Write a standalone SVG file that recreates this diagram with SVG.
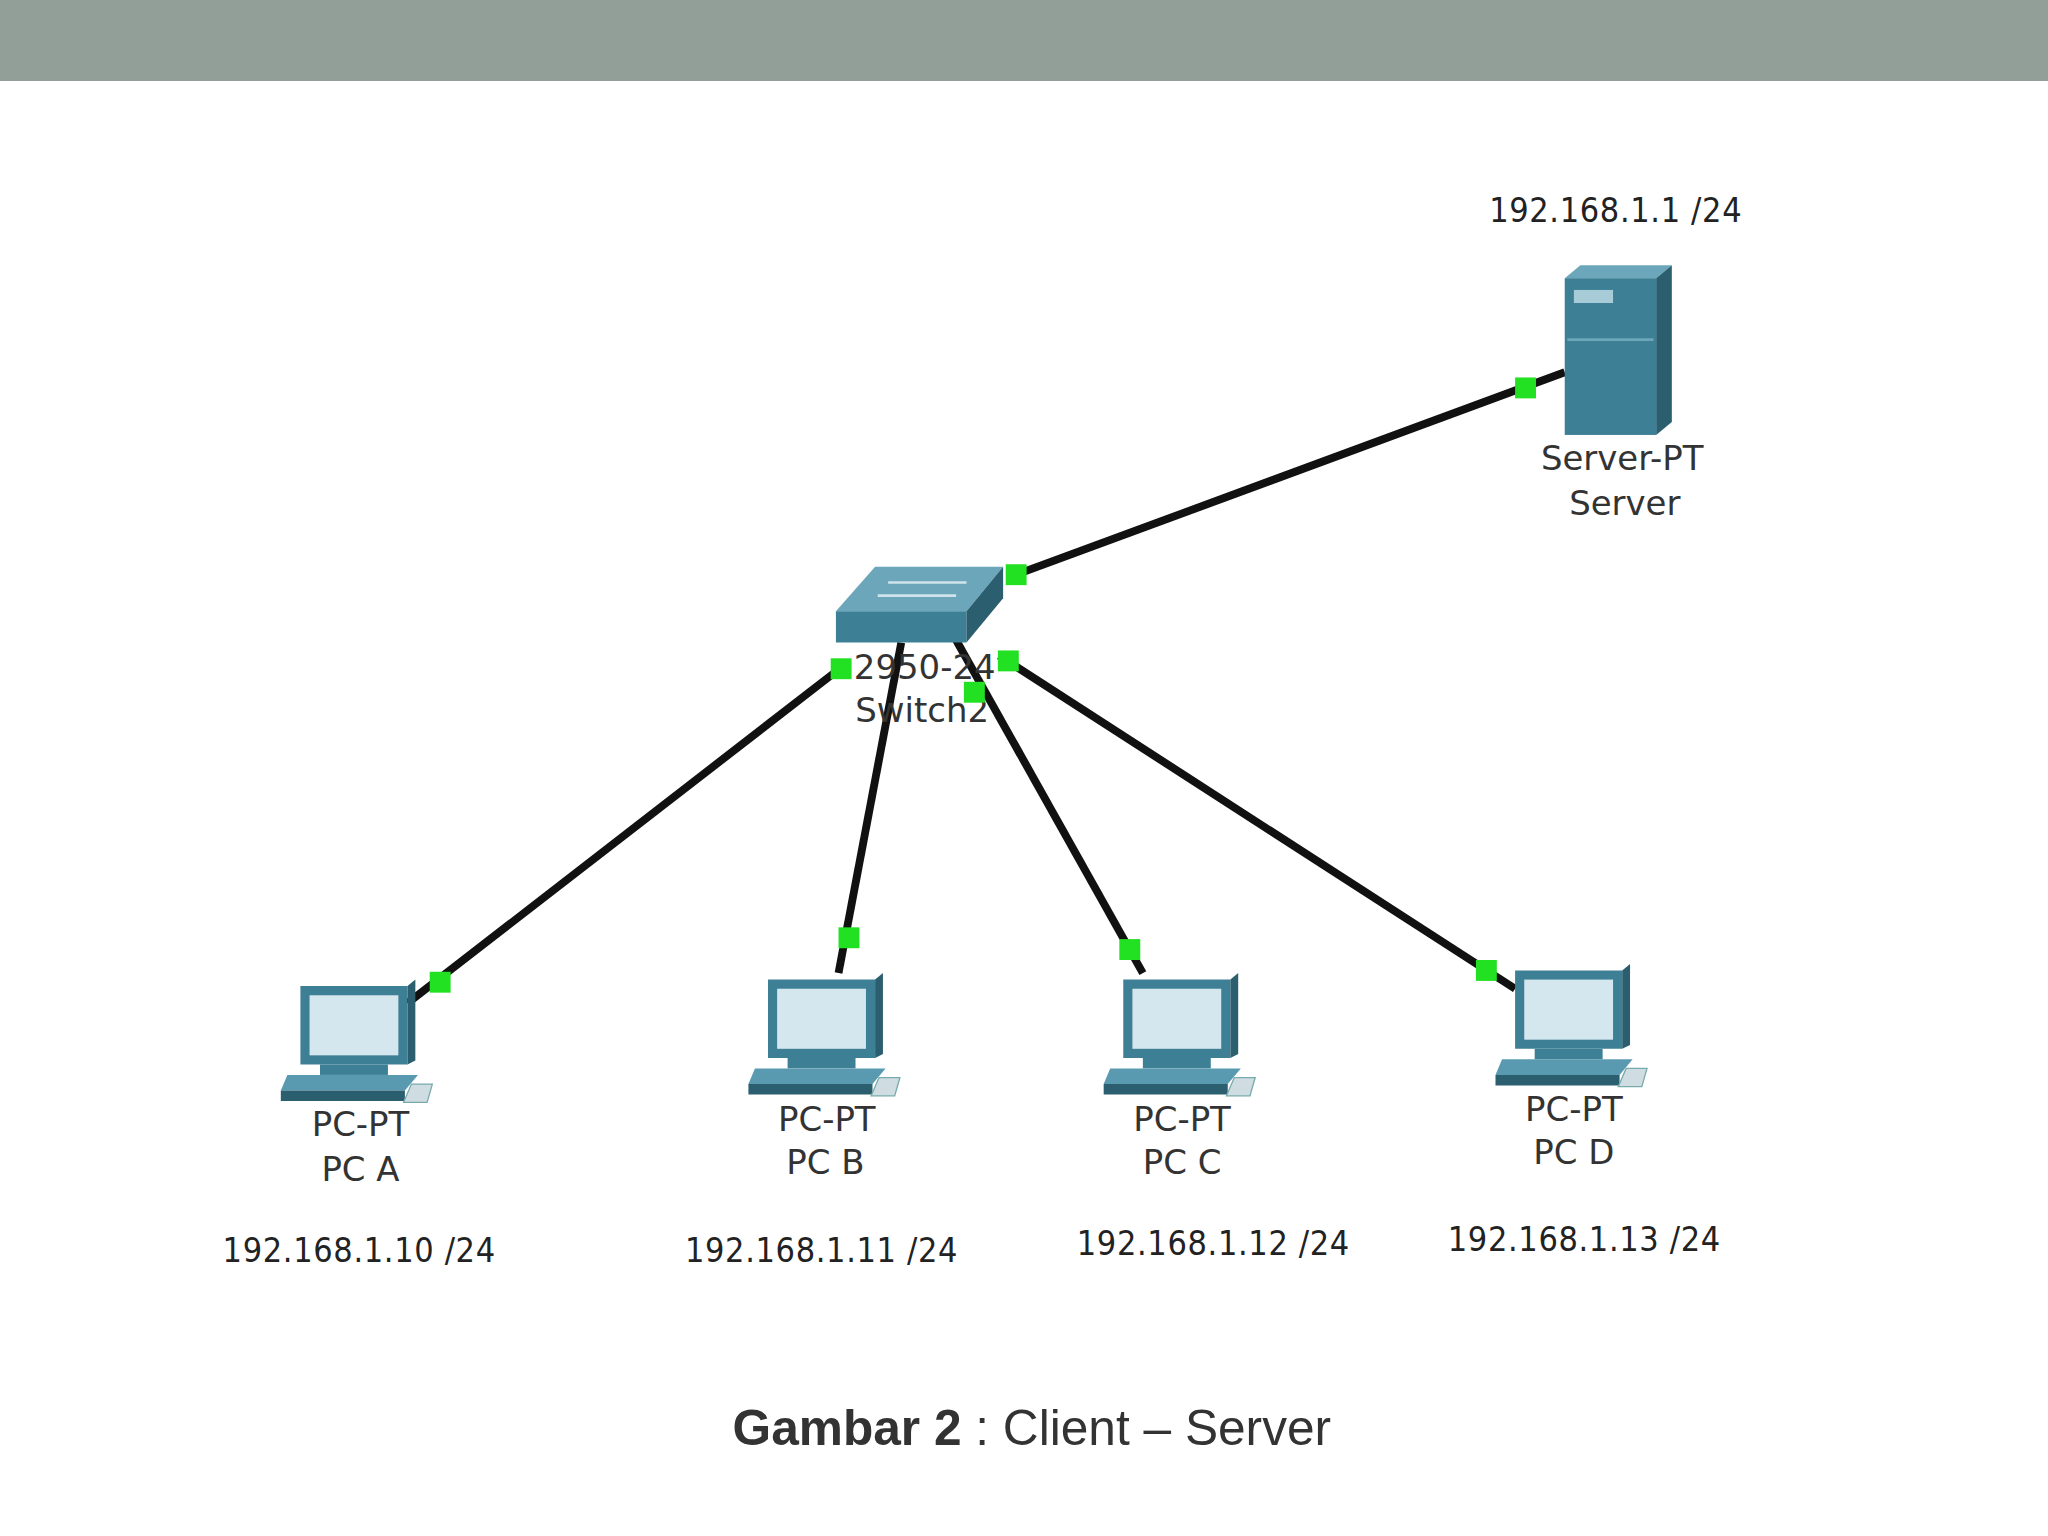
<svg xmlns="http://www.w3.org/2000/svg" width="2048" height="1536" viewBox="0 0 2048 1536">
<style>
.lbl{font-family:"DejaVu Sans",sans-serif;font-size:26px;fill:#333;text-anchor:middle}
.ip{font-family:"DejaVu Sans Condensed","DejaVu Sans",sans-serif;font-size:26px;fill:#222;text-anchor:middle;letter-spacing:0.5px}
.ln{stroke:#111;stroke-width:6;fill:none}
.dot{fill:#22e022}
</style>
<defs>
<g id="pc">
<path d="M15,0 h82 v60 h-82 z" fill="#3d7f95"/>
<path d="M97,0 l6,-5 v62 l-6,3 z" fill="#2b5f70"/>
<rect x="22" y="7" width="68" height="46" fill="#d4e6ee"/>
<rect x="30" y="60" width="52" height="8" fill="#3d7f95"/>
<path d="M5,68 h100 l-10,12 h-95 z" fill="#5a9ab0"/>
<path d="M0,80 h95 v8 h-95 z" fill="#2b5f70"/>
<path d="M100,75 h16 l-4,14 h-18 z" fill="#cfdde3" stroke="#7aa" stroke-width="1"/>
</g>
</defs>
<rect x="0" y="0" width="2048" height="81" fill="#919f98"/>
<g transform="scale(1.30612)">
<g id="connectors">
<line class="ln" x1="778" y1="440" x2="1198" y2="285"/>
<line class="ln" x1="648" y1="508" x2="312" y2="768"/>
<line class="ln" x1="690" y1="492" x2="642" y2="745"/>
<line class="ln" x1="732" y1="490" x2="875" y2="745"/>
<line class="ln" x1="765" y1="502" x2="1160" y2="757"/>
</g>
<g id="switch">
<path d="M640,468 l30,-34 h98 l-28,34 z" fill="#6ba6ba"/>
<path d="M640,468 h100 v24 h-100 z" fill="#3d7f95"/>
<path d="M740,468 l28,-34 v24 l-28,34 z" fill="#2b5f70"/>
<path d="M680,446 h60 M672,456 h60" stroke="#cfe3ea" stroke-width="2"/>
<text class="lbl" x="708" y="520">2950-24</text>
<text class="lbl" x="706" y="553">Switch2</text>
</g>
<g id="server">
<path d="M1198,213 l12,-10 h70 l-12,10 z" fill="#6ba6ba"/>
<rect x="1198" y="213" width="70" height="120" fill="#3d7f95"/>
<path d="M1268,213 l12,-10 v120 l-12,10 z" fill="#2b5f70"/>
<rect x="1205" y="222" width="30" height="10" fill="#a8cbd8"/>
<line x1="1200" y1="260" x2="1266" y2="260" stroke="#6ba6ba" stroke-width="2"/>
<text class="lbl" x="1242" y="360">Server-PT</text>
<text class="lbl" x="1244" y="394">Server</text>
<text class="ip" x="1237" y="170">192.168.1.1 /24</text>
</g>
<g id="pcA"><use href="#pc" x="215" y="755"/>
<text class="lbl" x="276" y="870">PC-PT</text><text class="lbl" x="276" y="904">PC A</text>
<text class="ip" x="275" y="966">192.168.1.10 /24</text></g>
<g id="pcB"><use href="#pc" x="573" y="750"/>
<text class="lbl" x="633" y="866">PC-PT</text><text class="lbl" x="632" y="899">PC B</text>
<text class="ip" x="629" y="966">192.168.1.11 /24</text></g>
<g id="pcC"><use href="#pc" x="845" y="750"/>
<text class="lbl" x="905" y="866">PC-PT</text><text class="lbl" x="905" y="899">PC C</text>
<text class="ip" x="929" y="961">192.168.1.12 /24</text></g>
<g id="pcD"><use href="#pc" x="1145" y="743"/>
<text class="lbl" x="1205" y="858">PC-PT</text><text class="lbl" x="1205" y="891">PC D</text>
<text class="ip" x="1213" y="958">192.168.1.13 /24</text></g>
<g id="dots">
<rect class="dot" x="1160" y="289" width="16" height="16"/>
<rect class="dot" x="770" y="432" width="16" height="16"/>
<rect class="dot" x="636" y="504" width="16" height="16"/>
<rect class="dot" x="738" y="522" width="16" height="16"/>
<rect class="dot" x="764" y="498" width="16" height="16"/>
<rect class="dot" x="329" y="744" width="16" height="16"/>
<rect class="dot" x="642" y="710" width="16" height="16"/>
<rect class="dot" x="857" y="719" width="16" height="16"/>
<rect class="dot" x="1130" y="735" width="16" height="16"/>
</g>
<text x="790" y="1106" font-family="Liberation Sans,Arial,sans-serif" font-size="38" fill="#333" text-anchor="middle"><tspan font-weight="bold">Gambar 2</tspan> : Client – Server</text>
</g>
</svg>
